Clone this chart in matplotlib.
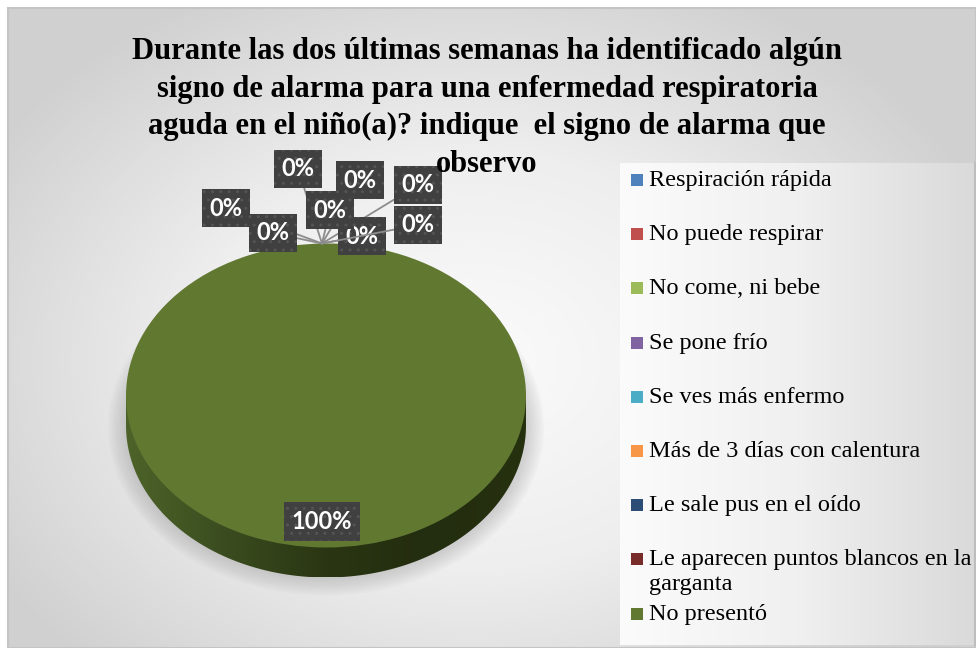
import numpy as np
import matplotlib
matplotlib.use("Agg")
import matplotlib.pyplot as plt
from matplotlib.colors import LinearSegmentedColormap
from matplotlib.patches import Rectangle, Ellipse, Polygon
from matplotlib.transforms import Affine2D

# data
labels = ["Respiración rápida", "No puede respirar", "No come, ni bebe",
          "Se pone frío", "Se ves más enfermo", "Más de 3 días con calentura",
          "Le sale pus en el oído",
          "Le aparecen puntos blancos en la\ngarganta", "No presentó"]
values = [0, 0, 0, 0, 0, 0, 0, 0, 100]
colors = ["#4F81BD", "#C0504D", "#9BBB59", "#8064A2", "#4BACC6",
          "#F79646", "#2C4D75", "#772C2A", "#617831"]
title = ("Durante las dos últimas semanas ha identificado algún\n"
         "signo de alarma para una enfermedad respiratoria\n"
         "aguda en el niño(a)? indique  el signo de alarma que\n"
         "observo")

# label boxes for the zero slices (pixel positions), drawing order matters
zero_pos = [(418, 185), (362, 236), (418, 225), (298, 169),
            (360, 180), (226, 208), (273, 233), (330, 210)]

W, H = 976, 648
CX, CY, RX, RY, D = 326, 395.5, 200, 152, 30

fig = plt.figure(figsize=(W / 100, H / 100), dpi=100)
ax = fig.add_axes([0, 0, 1, 1])

# background: radial grey gradient
yy, xx = np.mgrid[8:H, 8:W]
r = np.sqrt(((xx - 470) / 560.0) ** 2 + ((yy - 360) / 420.0) ** 2)
bg_cmap = LinearSegmentedColormap.from_list("bg", ["#fbfbfb", "#eeeeee", "#d0d0d0"])
ax.imshow(np.clip(r, 0, 1), cmap=bg_cmap, vmin=0, vmax=1, extent=(8, W, H, 8),
          zorder=0, aspect="auto")
ax.add_patch(Rectangle((8, 8), W - 8, H - 8, fill=False, ec="#c4c4c4", lw=1.5, zorder=1))

# legend panel
lg = np.linspace(0, 1, 200)[None, :]
lg_cmap = LinearSegmentedColormap.from_list("lg", ["#fbfbfb", "#f0f0f0", "#dadada"])
ax.imshow(lg, cmap=lg_cmap, extent=(620, 975, 645, 163), zorder=1, aspect="auto")
ax.plot([975, 975], [163, 645], color="#bdbdbd", lw=1.5, zorder=2)

# soft shadow under the pie
for k in range(10):
    ax.add_patch(Ellipse((CX, CY + D + 2), 2 * (RX + 18 - 2 * k), 2 * (RY + 16 - 2 * k),
                         fc="#8a8a8a", ec="none", alpha=0.04, zorder=2))

# pie top face
wedges, _ = ax.pie(values, colors=colors, startangle=90, counterclock=False,
                   wedgeprops=dict(linewidth=0))
pie_tf = Affine2D().scale(RX, -RY).translate(CX, CY) + ax.transData
for w in wedges:
    w.set_transform(pie_tf)
    w.set_zorder(5)

# pie side with a dark gradient
t = np.linspace(np.pi, 2 * np.pi, 120)
side = [(CX - RX, CY)] + list(zip(CX + RX * np.cos(t), CY + D - RY * np.sin(t))) + [(CX + RX, CY)]
side_patch = Polygon(side, closed=True, fc="none", ec="none", zorder=4)
ax.add_patch(side_patch)
sg = np.linspace(0, 1, 200)[None, :]
side_cmap = LinearSegmentedColormap.from_list("side", ["#4d6329", "#3a4c1f", "#2a3613", "#232d0f", "#26310f"])
im = ax.imshow(sg, cmap=side_cmap, extent=(CX - RX, CX + RX, CY + D + RY, CY), zorder=4, aspect="auto")
im.set_clip_path(side_patch)

pct = np.array(values) / np.sum(values) * 100
box = dict(boxstyle="square,pad=0.33", fc="#404040", ec="#545454", lw=0, hatch="..")
lab_font = dict(family="Lato", weight="bold", size=17, color="white")

# leader lines + label boxes for the zero slices
zero_idx = [i for i, v in enumerate(values) if v == 0]
for i, (bx, by) in zip(zero_idx, zero_pos):
    a = np.deg2rad(wedges[i].theta1)
    p = (CX - 4 + RX * np.cos(a), CY - RY * np.sin(a))
    ax.annotate(f"{pct[i]:.0f}%", xy=p, xytext=(bx, by), ha="center", va="center",
                bbox=box, zorder=7, annotation_clip=False,
                arrowprops=dict(arrowstyle="-", color="#8c8c8c", lw=1.3,
                                shrinkA=0, shrinkB=0), **lab_font)

# label for the non-zero slice
for i, v in enumerate(values):
    if v == 0:
        continue
    mid = np.deg2rad((wedges[i].theta1 + wedges[i].theta2) / 2)
    if wedges[i].theta2 - wedges[i].theta1 >= 359.9:
        mid = np.deg2rad(-90)
    ax.text(CX - 4 + RX * 0.83 * np.cos(mid), CY - RY * 0.83 * np.sin(mid),
            f"{pct[i]:.0f}%", ha="center", va="center", bbox=box, zorder=7, **lab_font)

# title
ax.text(487, 108, title, ha="center", va="center", family="Liberation Serif",
        weight="bold", size=22, linespacing=1.4, zorder=8)

# legend
for i, (lab, col) in enumerate(zip(labels, colors)):
    y = 180 + i * 54.2
    ax.add_patch(Rectangle((631, y - 6), 12, 12, fc=col, ec="none", zorder=8))
    ax.text(649, y - 10, lab, ha="left", va="top", family="Liberation Serif",
            size=17.5, linespacing=1.2, zorder=8)

ax.set_aspect("auto")
ax.set_xlim(0, W)
ax.set_ylim(H, 0)
ax.axis("off")

fig.savefig("out.png", dpi=100, facecolor="white")
